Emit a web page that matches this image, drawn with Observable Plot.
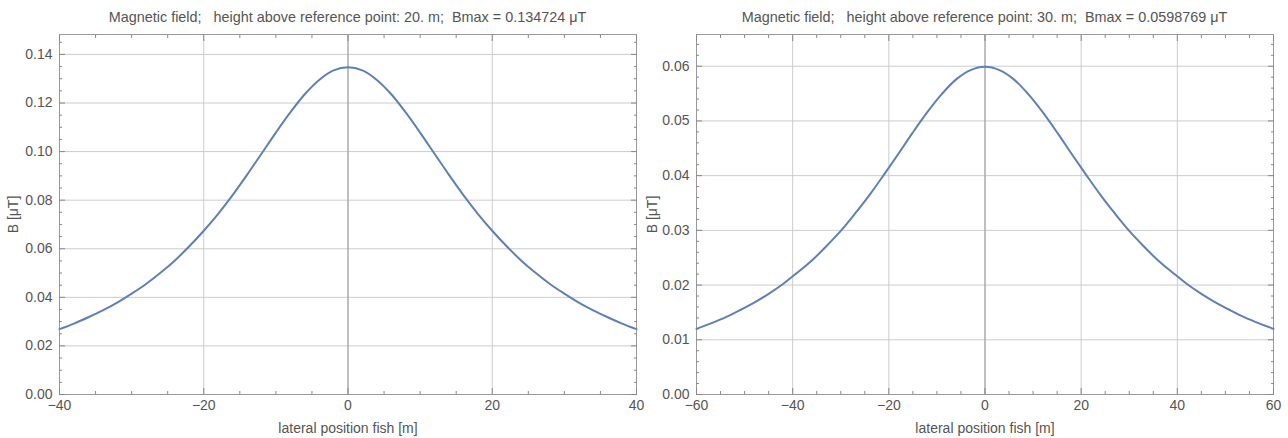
<!DOCTYPE html>
<html>
<head>
<meta charset="utf-8">
<script src="https://cdn.jsdelivr.net/npm/d3@7"></script>
<script src="https://cdn.jsdelivr.net/npm/@observablehq/plot@0.6"></script>
<style>
  html, body { margin: 0; padding: 0; background: #fff; }
  #wrap { display: flex; width: 1288px; height: 438px; }
  .panel { width: 644px; position: relative; }
  .title { font: 14.4px "Liberation Sans", Arial, sans-serif; height: 34px; line-height: 34px; color: #555; text-align: center; white-space: pre; }
  svg { display: block; }
</style>
</head>
<body>
<div id="wrap"></div>
<script>
// ---------- Left panel data (height 20 m) ----------
const leftTitle = "Magnetic field;   height above reference point: 20. m;  Bmax = 0.134724 μT";
const leftX = [-40,-38,-36,-34,-32,-30,-28,-26,-24,-22,-20,-18,-16,-14,-12,-10,-8,-6,-4,-2,0,2,4,6,8,10,12,14,16,18,20,22,24,26,28,30,32,34,36,38,40];
const leftB = [0.0269,0.0292,0.0318,0.0346,0.0378,0.0415,0.0455,0.0501,0.0552,0.0610,0.0674,0.0744,0.0821,0.0904,0.0991,0.1078,0.1161,0.1236,0.1295,0.1334,0.1347,0.1334,0.1295,0.1236,0.1161,0.1078,0.0991,0.0904,0.0821,0.0744,0.0674,0.0610,0.0552,0.0501,0.0455,0.0415,0.0378,0.0346,0.0318,0.0292,0.0269];
const leftXTicks = [-40,-20,0,20,40];
const leftXMinor = [-35,-30,-25,-15,-10,-5,5,10,15,25,30,35];
const leftYTicks = [0,0.02,0.04,0.06,0.08,0.10,0.12,0.14];
const leftYMinor = [0.005,0.01,0.015,0.025,0.03,0.035,0.045,0.05,0.055,0.065,0.07,0.075,0.085,0.09,0.095,0.105,0.11,0.115,0.125,0.13,0.135,0.145];
const leftYDomain = [0, 0.1482];
const leftXDomain = [-40, 40];

// ---------- Right panel data (height 30 m) ----------
const rightTitle = "Magnetic field;   height above reference point: 30. m;  Bmax = 0.0598769 μT";
const rightX = [-60,-57,-54,-51,-48,-45,-42,-39,-36,-33,-30,-27,-24,-21,-18,-15,-12,-9,-6,-3,0,3,6,9,12,15,18,21,24,27,30,33,36,39,42,45,48,51,54,57,60];
const rightB = [0.0120,0.0130,0.0141,0.0154,0.0168,0.0184,0.0202,0.0223,0.0245,0.0271,0.0299,0.0331,0.0365,0.0402,0.0440,0.0479,0.0516,0.0549,0.0576,0.0593,0.0599,0.0593,0.0576,0.0549,0.0516,0.0479,0.0440,0.0402,0.0365,0.0331,0.0299,0.0271,0.0245,0.0223,0.0202,0.0184,0.0168,0.0154,0.0141,0.0130,0.0120];
const rightXTicks = [-60,-40,-20,0,20,40,60];
const rightXMinor = [-55,-50,-45,-35,-30,-25,-15,-10,-5,5,10,15,25,30,35,45,50,55];
const rightYTicks = [0,0.01,0.02,0.03,0.04,0.05,0.06];
const rightYMinor = [0.002,0.004,0.006,0.008,0.012,0.014,0.016,0.018,0.022,0.024,0.026,0.028,0.032,0.034,0.036,0.038,0.042,0.044,0.046,0.048,0.052,0.054,0.056,0.058,0.062,0.064];
const rightYDomain = [0, 0.0658];
const rightXDomain = [-60, 60];

const xLabel = "lateral position fish [m]";
const yLabel = "B [μT]";

function panel({title, xs, ys, xDomain, yDomain, xTicks, xMinor, yTicks, yMinor, mL, mR, yLabelOffset}) {
  const data = xs.map((x, i) => ({x, b: ys[i]}));
  const fontFamily = '"Liberation Sans", Arial, sans-serif';
  const tickColor = "#888";
  const plot = Plot.plot({
    width: 644,
    height: 404,
    marginLeft: mL,
    marginRight: mR,
    marginTop: 0,
    marginBottom: 44,
    style: {fontFamily, fontSize: "14px", color: "#555", background: "#fff"},
    x: {domain: xDomain},
    y: {domain: yDomain},
    marks: [
      Plot.gridX(xTicks, {stroke: "#ccc", strokeOpacity: 1}),
      Plot.gridY(yTicks, {stroke: "#ccc", strokeOpacity: 1}),
      Plot.ruleX([0], {stroke: "#999"}),
      Plot.frame({stroke: "#999"}),
      Plot.axisX(xTicks, {anchor: "bottom", tickSize: 0, tickPadding: 6, tickFormat: d3.format("d"), fill: "#555", fontSize: 14,
        label: xLabel, labelAnchor: "center", labelArrow: "none", labelOffset: 38}),
      Plot.axisX(xTicks, {anchor: "bottom", tickSize: -6, text: null, label: null, stroke: tickColor}),
      Plot.axisX(xMinor, {anchor: "bottom", tickSize: -3, text: null, label: null, stroke: tickColor}),
      Plot.axisX(xTicks, {anchor: "top", tickSize: -6, text: null, label: null, stroke: tickColor}),
      Plot.axisX(xMinor, {anchor: "top", tickSize: -3, text: null, label: null, stroke: tickColor}),
      Plot.axisY(yTicks, {anchor: "left", tickSize: 0, tickPadding: 7, tickFormat: d3.format(".2f"), fill: "#555", fontSize: 14,
        label: yLabel, labelAnchor: "center", labelArrow: "none", labelOffset: yLabelOffset}),
      Plot.axisY(yTicks, {anchor: "left", tickSize: -6, text: null, label: null, stroke: tickColor}),
      Plot.axisY(yMinor, {anchor: "left", tickSize: -3, text: null, label: null, stroke: tickColor}),
      Plot.axisY(yTicks, {anchor: "right", tickSize: -6, text: null, label: null, stroke: tickColor}),
      Plot.axisY(yMinor, {anchor: "right", tickSize: -3, text: null, label: null, stroke: tickColor}),
      Plot.line(data, {x: "x", y: "b", stroke: "#5E81B5", strokeWidth: 2, curve: "catmull-rom"})
    ]
  });
  const div = document.createElement("div");
  div.className = "panel";
  const t = document.createElement("div");
  t.className = "title";
  t.style.paddingLeft = mL + "px";
  t.style.width = (644 - mL - mR) + "px";
  t.textContent = title;
  div.appendChild(t);
  div.appendChild(plot);
  return div;
}

const wrap = document.getElementById("wrap");
wrap.appendChild(panel({title: leftTitle, xs: leftX, ys: leftB, xDomain: leftXDomain, yDomain: leftYDomain,
  xTicks: leftXTicks, xMinor: leftXMinor, yTicks: leftYTicks, yMinor: leftYMinor, mL: 59, mR: 8, yLabelOffset: 51}));
wrap.appendChild(panel({title: rightTitle, xs: rightX, ys: rightB, xDomain: rightXDomain, yDomain: rightYDomain,
  xTicks: rightXTicks, xMinor: rightXMinor, yTicks: rightYTicks, yMinor: rightYMinor, mL: 52, mR: 15, yLabelOffset: 49}));
</script>
</body>
</html>
